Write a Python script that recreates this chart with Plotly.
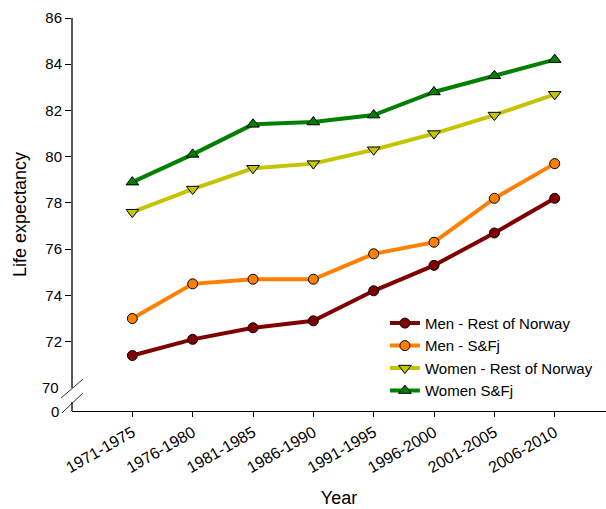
import plotly.graph_objects as go

# Five-year periods on the x axis
periods = ["1971-1975", "1976-1980", "1981-1985", "1986-1990",
           "1991-1995", "1996-2000", "2001-2005", "2006-2010"]

# Life expectancy (years) per group
men_rest = [71.4, 72.1, 72.6, 72.9, 74.2, 75.3, 76.7, 78.2]
men_sfj = [73.0, 74.5, 74.7, 74.7, 75.8, 76.3, 78.2, 79.7]
women_rest = [77.6, 78.6, 79.5, 79.7, 80.3, 81.0, 81.8, 82.7]
women_sfj = [78.9, 80.1, 81.4, 81.5, 81.8, 82.8, 83.5, 84.2]

y_ticks = [72, 74, 76, 78, 80, 82, 84, 86]

series = [
    ("Men - Rest of Norway", men_rest, "#800000", "circle"),
    ("Men - S&Fj", men_sfj, "#FF8000", "circle"),
    ("Women - Rest of Norway", women_rest, "#C4C400", "triangle-down"),
    ("Women S&Fj", women_sfj, "#008000", "triangle-up"),
]

FONT = "Liberation Sans, Arial, sans-serif"

fig = go.Figure()
x_idx = list(range(len(periods)))
for name, vals, color, symbol in series:
    fig.add_trace(go.Scatter(
        x=x_idx, y=vals, name=name, mode="lines+markers",
        line=dict(color=color, width=4),
        marker=dict(symbol=symbol, size=10 if symbol == "circle" else 11,
                    color=color, line=dict(color="black", width=1)),
        cliponaxis=False,
    ))

# y axis line with a break between 0 and 70
axis_black = dict(color="black", width=1.3)
fig.add_shape(type="line", xref="paper", yref="y", x0=0, x1=0, y0=70, y1=86,
              line=axis_black)
fig.add_shape(type="line", xref="paper", yref="paper", x0=0, x1=0, y0=0, y1=0.023,
              line=axis_black)
# break marks
for (x0, y0, x1, y1) in [(-0.0206, 0.033, 0.0206, 0.081),
                         (-0.0187, -0.005, 0.0206, 0.046)]:
    fig.add_shape(type="line", xref="paper", yref="paper",
                  x0=x0, y0=y0, x1=x1, y1=y1,
                  line=dict(color="black", width=0.8))

fig.add_annotation(x=0, y=70, xref="paper", yref="y", text="70",
                   showarrow=False, xanchor="right", yanchor="middle", xshift=-11,
                   font=dict(family=FONT, size=15, color="black"))
fig.add_annotation(x=0, y=0, xref="paper", yref="paper", text="0",
                   showarrow=False, xanchor="right", yanchor="middle", xshift=-11,
                   font=dict(family=FONT, size=15, color="black"))

fig.update_layout(
    width=606, height=509,
    margin=dict(l=72, r=0, t=18, b=98),
    paper_bgcolor="white", plot_bgcolor="white",
    font=dict(family=FONT, size=15, color="black"),
    showlegend=True,
    legend=dict(x=0.586, y=0.265, xanchor="left", yanchor="top",
                bgcolor="rgba(0,0,0,0)", font=dict(size=15),
                tracegroupgap=0, itemwidth=30),
    xaxis=dict(
        range=[-1, 7.85], tickmode="array", tickvals=x_idx, ticktext=periods,
        tickangle=-30, showline=True, linecolor="black", linewidth=1.3,
        ticks="outside", ticklen=5, tickcolor="black", showgrid=False,
        zeroline=False, tickfont=dict(size=16),
        title=dict(text="Year", font=dict(size=18), standoff=16),
    ),
    yaxis=dict(
        range=[69.0, 86], tickmode="array", tickvals=y_ticks,
        showline=False, ticks="outside", ticklen=6, tickcolor="black",
        showgrid=False, zeroline=False, tickfont=dict(size=15),
        title=dict(text="Life expectancy", font=dict(size=18), standoff=14),
    ),
)

fig.write_html("out.html")
